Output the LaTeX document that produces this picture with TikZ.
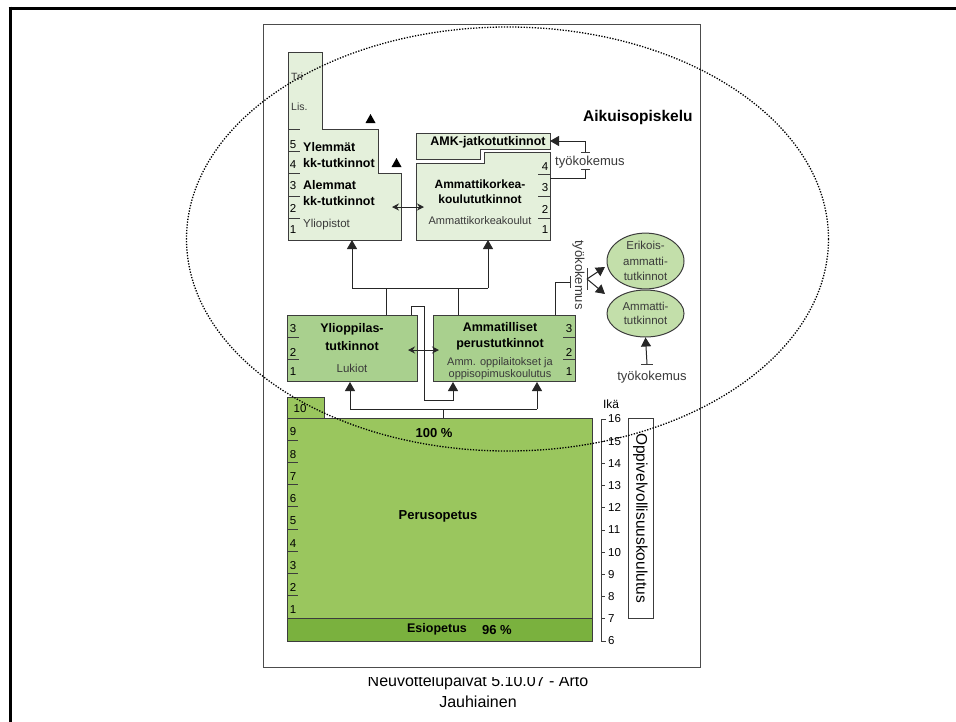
\documentclass[tikz,border=0pt]{standalone}
\usepackage{fontspec}
\setmainfont{Liberation Sans}
\usetikzlibrary{arrows.meta,shapes.geometric}
\definecolor{pale}{HTML}{E4F0DB}
\definecolor{midg}{HTML}{A9D08E}
\definecolor{ellg}{HTML}{C3DFAA}
\definecolor{perug}{HTML}{9AC65E}
\definecolor{esig}{HTML}{7AB13E}
\definecolor{edge}{HTML}{3C3C3C}
\definecolor{grayt}{HTML}{3A3A3A}
\tikzset{
  bx/.style={draw=edge, line width=1pt},
  lbl/.style={font=\fontsize{12.5}{14}\selectfont\bfseries, inner sep=0pt, anchor=base},
  sml/.style={font=\fontsize{11}{13}\selectfont, inner sep=0pt, anchor=base, text=grayt},
  num/.style={font=\fontsize{11.5}{12}\selectfont, inner sep=0pt, text=black},
  conn/.style={draw=black!85, line width=1pt},
  arr/.style={conn, -{Triangle[length=9pt,width=10pt]}},
  darr/.style={conn, {Stealth[length=7pt,width=7pt]}-{Stealth[length=7pt,width=7pt]}},
  tk/.style={draw=edge, line width=1pt},
  tyo/.style={font=\fontsize{13}{15}\selectfont, inner sep=0pt, text=grayt},
}
\begin{document}
\begin{tikzpicture}[x=1pt,y=-1pt]
\path[use as bounding box] (0,0) rectangle (956,721);
% footer
\node[font=\fontsize{16}{18}\selectfont, anchor=base, inner sep=0pt] (foot1) at (478,686) {Neuvottelupäivät 5.10.07 - Arto};
\node[font=\fontsize{16}{18}\selectfont, anchor=base, inner sep=0pt] (foot2) at (478,707) {Jauhiainen};
\fill[white] (263,24) rectangle (700,677);
\draw[draw=black!70, line width=1pt] (263,24) rectangle (700,667);
% outer frame
\draw[line width=3pt] (8.5,8) -- (960,8);
\draw[line width=3pt] (10,6.5) -- (10,725);

% ---------- Yliopistot ----------
\draw[bx, fill=pale] (288,52) -- (322,52) -- (322,129) -- (378,129) -- (378,173) -- (401,173) -- (401,240) -- (288,240) -- cycle;
\foreach \y in {129,151,173,196,218} \draw[tk] (288,\y) -- (300,\y);
\foreach \n/\y in {5/145,4/165,3/186,2/208,1/230} \node[num] at (293,\y) {\n};
\node[font=\fontsize{10.5}{12}\selectfont, text=grayt, anchor=base west, inner sep=0pt] (tri) at (291,80) {Tri};
\node[font=\fontsize{10.5}{12}\selectfont, text=grayt, anchor=base west, inner sep=0pt] (lis) at (291,110) {Lis.};
\node[lbl, anchor=base west] (ylt1) at (303,151.5) {Ylemmät};
\node[lbl, anchor=base west] (ylt2) at (303,167.5) {kk-tutkinnot};
\node[lbl, anchor=base west] (ylt3) at (303,189.5) {Alemmat};
\node[lbl, anchor=base west] (ylt4) at (303,205.5) {kk-tutkinnot};
\node[sml, anchor=base west, font=\fontsize{11.5}{13}\selectfont] (ylt5) at (303,227) {Yliopistot};
\fill[black] (365.5,123) -- (375.5,123) -- (370.5,114) -- cycle;
\fill[black] (391.5,167) -- (401.5,167) -- (396.5,158) -- cycle;

% ---------- AMK ----------
\draw[bx, fill=pale] (416,133) -- (550,133) -- (550,149) -- (480,149) -- (480,159) -- (416,159) -- cycle;
\draw[bx, fill=pale] (416,163) -- (484,163) -- (484,152) -- (550,152) -- (550,240) -- (416,240) -- cycle;
\node[lbl] (jat) at (488,145.5) {AMK-jatkotutkinnot};
\coordinate (jatr) at (550,141);
\coordinate (amkr) at (550,178);
\foreach \y in {174,196,218} \draw[tk] (538,\y) -- (550,\y);
\foreach \n/\y in {4/167,3/188,2/209,1/230} \node[num] at (545,\y) {\n};
\node[lbl, font=\fontsize{12}{14}\selectfont\bfseries] (amt1) at (480,188.5) {Ammattikorkea-};
\node[lbl, font=\fontsize{12}{14}\selectfont\bfseries] (amt2) at (480,203.5) {koulututkinnot};
\node[sml] (amt3) at (480,224) {Ammattikorkeakoulut};
\draw[darr] (392,207) -- (424,207);

% ---------- työkokemus bracket (AMK) ----------
\draw[conn] (amkr) -- (585,178) -- (585,169);
\draw[tk] (581,169) -- (590,169);
\draw[tk] (581,152) -- (590,152);
\draw[arr] (585,152) -- (585,141) -- (jatr);
\node[tyo, anchor=base west] (tyo1) at (555,165) {työkokemus};
\node[font=\fontsize{15.5}{17}\selectfont\bfseries, anchor=base west, inner sep=0pt] (aik) at (583,121) {Aikuisopiskelu};

% ---------- second level ----------
\node[bx, fill=midg, minimum width=130pt, minimum height=66pt, anchor=north west, inner sep=0pt] (yo) at (287,315) {};
\node[bx, fill=midg, minimum width=142pt, minimum height=66pt, anchor=north west, inner sep=0pt] (am) at (433,315) {};
\foreach \y in {337,359} \draw[tk] (287,\y) -- (299,\y);
\foreach \y in {337,359} \draw[tk] (563,\y) -- (575,\y);
\foreach \n/\y in {3/329,2/352,1/372} {\node[num] at (293,\y) {\n}; \node[num] at (569,\y) {\n};}
\node[lbl] (yot1) at (352,332.5) {Ylioppilas-};
\node[lbl] (yot2) at (352,350.5) {tutkinnot};
\node[sml, font=\fontsize{11.5}{13}\selectfont] (yot3) at (352,372) {Lukiot};
\node[lbl] (amt4) at (500,331.5) {Ammatilliset};
\node[lbl] (amt5) at (500,347.5) {perustutkinnot};
\node[sml] (amt6) at (500,365) {Amm. oppilaitokset ja};
\node[sml] (amt7) at (500,377) {oppisopimuskoulutus};
\draw[darr] (408,350) -- (439,350);

% ---------- ellipses ----------
\node[ellipse, bx, fill=ellg, minimum width=77pt, minimum height=52pt, inner sep=0pt, align=center, font=\fontsize{11.5}{15.5}\selectfont, text=grayt] (erik) at (645.5,261) {Erikois-\\ammatti-\\tutkinnot};
\node[ellipse, bx, fill=ellg, minimum width=77pt, minimum height=47pt, inner sep=0pt, align=center, font=\fontsize{11.5}{14}\selectfont, text=grayt] (ammt) at (645.5,313.5) {Ammatti-\\tutkinnot};
\coordinate (b1) at (570,282);
\coordinate (b2) at (587,279);
\draw[conn] (555,315) -- (555,282) -- (b1);
\draw[tk] (570,276) -- (570,288);
\draw[tk] (587,268) -- (587,290);
\node[tyo, rotate=-90] (tyo2) at (578.5,275) {työkokemus};
\draw[arr] (b2) -- (605,267);
\draw[arr] (b2) -- (605,294);
\coordinate (b3) at (647,364);
\draw[tk] (641,364) -- (653,364);
\draw[arr] (b3) -- (ammt.south);
\node[tyo] (tyo3) at (652,377) {työkokemus};

% ---------- connectors between levels ----------
\coordinate (j1) at (352,288);
\coordinate (j2) at (488,288);
\coordinate (lp) at (453,400);
\draw[conn] (386,315) -- (386,288);
\draw[conn] (458,315) -- (458,288);
\draw[conn] (j1) -- (j2);
\draw[arr] (j1) -- (352,240);
\draw[arr] (j2) -- (488,240);
\draw[arr] (411,315) -- (411,306) -- (424,306) -- (424,400) -- (lp) -- (lp |- am.south);

% ---------- Perusopetus ----------
\node[bx, fill=perug, minimum width=37pt, minimum height=21pt, anchor=north west, inner sep=0pt] (ten) at (287,397) {};
\node[num] at (300,409) {10};
\node[bx, fill=perug, minimum width=305pt, minimum height=200pt, anchor=north west, inner sep=0pt] (peru) at (287,418) {};
\node[bx, fill=esig, minimum width=305pt, minimum height=23pt, anchor=north west, inner sep=0pt] (esi) at (287,618) {};
\foreach \i in {1,...,8} \draw[tk] (287,418+22.22*\i) -- (298,418+22.22*\i);
\foreach \n in {1,...,9} \node[num] at (293,618-22.22*\n+14) {\n};
\node[font=\fontsize{13}{15}\selectfont\bfseries] (pct) at (434,433) {100 \%};
\node[font=\fontsize{13}{15}\selectfont\bfseries] (pert) at (438,516) {Perusopetus};
\node[font=\fontsize{12.5}{15}\selectfont\bfseries] (esit) at (437,629) {Esiopetus};
\node[font=\fontsize{13}{15}\selectfont\bfseries] (esip) at (497,630) {96 \%};
\coordinate (pj) at (443,409);
\draw[conn] (443,418) -- (pj);
\coordinate (pl) at (350,409);
\coordinate (pr) at (537,409);
\draw[conn] (pl) -- (pr);
\draw[arr] (pl) -- (pl |- yo.south);
\draw[arr] (pr) -- (pr |- am.south);

% ---------- age scale ----------
\draw[tk] (606,419) -- (601,419) -- (601,641) -- (606,641);
\foreach \a in {7,...,15} \draw[tk] (601,641-22.2*\a+133.2) -- (605,641-22.2*\a+133.2);
\foreach \a in {6,...,16} \node[num, anchor=west] at (608,641-22.2*\a+133.2) {\a};
\node[font=\fontsize{12}{13}\selectfont] (ika) at (611,404) {Ikä};
\node[draw=edge, line width=1pt, fill=white, minimum width=25pt, minimum height=200pt, inner sep=0pt] (oppi) at (640.5,518) {};
\node[rotate=-90, font=\fontsize{15.5}{16}\selectfont, inner sep=0pt] (oppit) at (oppi.center) {Oppivelvollisuuskoulutus};

% ---------- dotted ellipse ----------
\draw[line width=1.3pt, dash pattern=on 1.3pt off 1.5pt] (507.5,239) ellipse [x radius=321, y radius=212];
\end{tikzpicture}
\end{document}
